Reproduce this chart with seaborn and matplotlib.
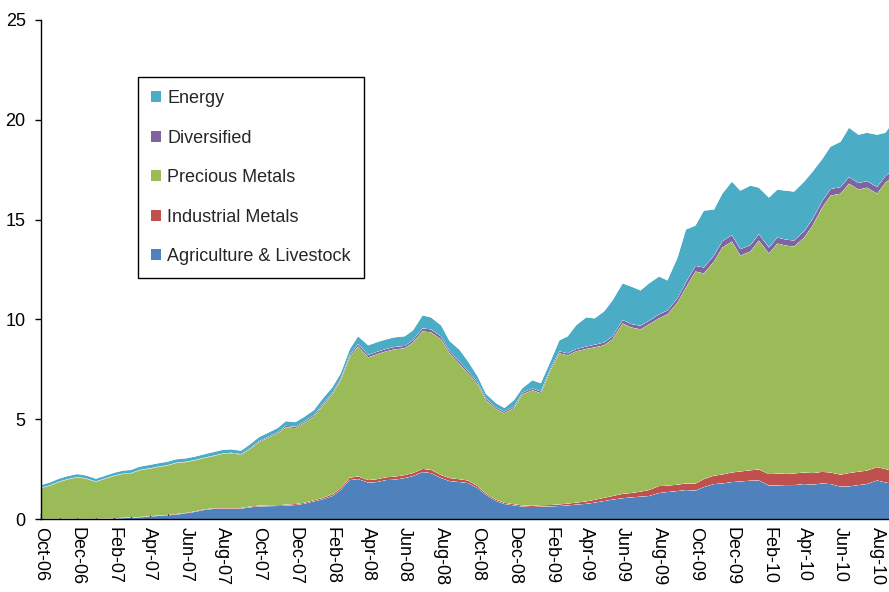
import numpy as np
import pandas as pd
import matplotlib
matplotlib.use("Agg")
import matplotlib.pyplot as plt
import matplotlib.dates as mdates
from matplotlib.patches import Patch
import seaborn as sns
import seaborn.objects as so

# ---------------- data ----------------
dates = list(pd.date_range("2006-10-01", "2010-08-15", freq="SMS")) + [pd.Timestamp("2010-08-21")]

agriculture = [0.00, 0.00, 0.00, 0.00, 0.00, 0.00, 0.00, 0.01, 0.02, 0.04,
               0.06, 0.08, 0.12, 0.15, 0.18, 0.22, 0.28, 0.35, 0.45, 0.50,
               0.52, 0.50, 0.52, 0.58, 0.63, 0.64, 0.65, 0.67, 0.70, 0.76,
               0.88, 0.98, 1.15, 1.45, 1.95, 2.00, 1.82, 1.85, 1.95, 1.97,
               2.05, 2.15, 2.35, 2.30, 2.05, 1.90, 1.85, 1.80, 1.55, 1.20,
               0.90, 0.75, 0.68, 0.62, 0.60, 0.62, 0.63, 0.65, 0.68, 0.72,
               0.76, 0.82, 0.90, 0.97, 1.04, 1.08, 1.12, 1.15, 1.30, 1.35,
               1.40, 1.45, 1.42, 1.60, 1.75, 1.78, 1.85, 1.88, 1.92, 1.93,
               1.68, 1.68, 1.70, 1.70, 1.75, 1.72, 1.78, 1.75, 1.62, 1.63,
               1.70, 1.75, 1.93, 1.83, 1.80]

industrial = [0.01, 0.01, 0.01, 0.01, 0.01, 0.01, 0.01, 0.01, 0.02, 0.02,
              0.02, 0.02, 0.02, 0.02, 0.03, 0.03, 0.03, 0.03, 0.03, 0.03,
              0.03, 0.03, 0.03, 0.04, 0.04, 0.04, 0.04, 0.05, 0.05, 0.05,
              0.06, 0.07, 0.08, 0.10, 0.12, 0.13, 0.13, 0.14, 0.14, 0.15,
              0.15, 0.15, 0.16, 0.16, 0.15, 0.15, 0.14, 0.13, 0.10, 0.08,
              0.07, 0.06, 0.06, 0.06, 0.06, 0.07, 0.07, 0.08, 0.09, 0.10,
              0.12, 0.14, 0.16, 0.18, 0.22, 0.22, 0.25, 0.30, 0.35, 0.32,
              0.32, 0.33, 0.35, 0.40, 0.42, 0.45, 0.48, 0.50, 0.52, 0.55,
              0.57, 0.59, 0.59, 0.58, 0.58, 0.58, 0.58, 0.58, 0.60, 0.67,
              0.67, 0.67, 0.67, 0.67, 0.65]

precious = [1.54, 1.65, 1.85, 1.97, 2.07, 2.01, 1.85, 1.98, 2.12, 2.19,
            2.20, 2.34, 2.38, 2.43, 2.47, 2.55, 2.54, 2.55, 2.57, 2.61,
            2.71, 2.76, 2.67, 2.86, 3.18, 3.37, 3.59, 3.88, 3.80, 3.99,
            4.18, 4.60, 5.02, 5.40, 6.05, 6.52, 6.15, 6.26, 6.31, 6.38,
            6.35, 6.55, 6.89, 6.89, 6.80, 6.25, 5.76, 5.37, 5.10, 4.67,
            4.53, 4.49, 4.81, 5.57, 5.79, 5.61, 6.80, 7.57, 7.43, 7.58,
            7.64, 7.64, 7.64, 7.85, 8.54, 8.30, 8.13, 8.30, 8.40, 8.58,
            9.13, 9.82, 10.63, 10.30, 10.73, 11.37, 11.57, 10.82, 10.96, 11.47,
            11.05, 11.53, 11.41, 11.37, 11.77, 12.40, 13.24, 13.87, 14.08, 14.50,
            14.13, 14.18, 13.70, 14.35, 14.55]

diversified = [0.02, 0.02, 0.02, 0.02, 0.02, 0.02, 0.02, 0.02, 0.02, 0.02,
               0.03, 0.02, 0.02, 0.02, 0.02, 0.02, 0.02, 0.02, 0.02, 0.02,
               0.02, 0.03, 0.03, 0.04, 0.05, 0.05, 0.06, 0.07, 0.07, 0.07,
               0.08, 0.08, 0.08, 0.08, 0.10, 0.12, 0.12, 0.12, 0.12, 0.12,
               0.12, 0.12, 0.15, 0.15, 0.14, 0.12, 0.12, 0.12, 0.10, 0.10,
               0.08, 0.08, 0.08, 0.08, 0.09, 0.09, 0.10, 0.10, 0.10, 0.11,
               0.12, 0.13, 0.14, 0.15, 0.17, 0.17, 0.18, 0.18, 0.20, 0.20,
               0.22, 0.25, 0.28, 0.30, 0.30, 0.32, 0.32, 0.32, 0.32, 0.32,
               0.30, 0.30, 0.30, 0.30, 0.32, 0.32, 0.32, 0.33, 0.33, 0.33,
               0.33, 0.33, 0.33, 0.33, 0.33]

energy = [0.13, 0.14, 0.15, 0.15, 0.15, 0.14, 0.14, 0.13, 0.14, 0.15,
          0.15, 0.16, 0.17, 0.17, 0.17, 0.17, 0.17, 0.17, 0.17, 0.18,
          0.18, 0.17, 0.17, 0.20, 0.20, 0.20, 0.21, 0.23, 0.23, 0.23,
          0.25, 0.27, 0.27, 0.27, 0.28, 0.38, 0.48, 0.48, 0.48, 0.48,
          0.48, 0.48, 0.65, 0.60, 0.56, 0.50, 0.60, 0.48, 0.30, 0.22,
          0.22, 0.18, 0.32, 0.22, 0.41, 0.41, 0.35, 0.55, 0.85, 1.19,
          1.46, 1.32, 1.56, 1.80, 1.83, 1.88, 1.77, 1.87, 1.90, 1.50,
          2.03, 2.65, 2.02, 2.85, 2.30, 2.38, 2.68, 2.93, 2.98, 2.33,
          2.50, 2.40, 2.45, 2.45, 2.48, 2.38, 2.10, 2.12, 2.27, 2.47,
          2.42, 2.42, 2.62, 2.17, 2.27]

series_names = ["Agriculture & Livestock", "Industrial Metals", "Precious Metals",
                "Diversified", "Energy"]
series_values = [agriculture, industrial, precious, diversified, energy]
colors = ["#4F81BD", "#C0504D", "#9BBB59", "#8064A2", "#4BACC6"]
y_ticks = [0, 5, 10, 15, 20, 25]

# ---------------- figure ----------------
FONT = ["Liberation Sans", "DejaVu Sans"]
FS = 13
sns.set_theme(style="white")
plt.rcParams["font.family"] = FONT

df = pd.concat(
    [pd.DataFrame({"date": dates, "value": v, "series": n})
     for n, v in zip(series_names, series_values)],
    ignore_index=True,
)

fig = plt.figure(figsize=(8.89, 5.92), dpi=100)
ax = fig.add_axes([41 / 889, 73 / 592, 848 / 889, 499 / 592])

theme = {**sns.axes_style("white"), "font.family": FONT, "axes.grid": False}
(
    so.Plot(df, x="date", y="value", color="series")
    .add(so.Area(alpha=1, edgewidth=0), so.Stack())
    .scale(color=so.Nominal(dict(zip(series_names, colors)), order=series_names))
    .theme(theme)
    .on(ax)
    .plot()
)

fig.legends.clear()

ax.set_facecolor("white")
ax.grid(False)
ax.set_xlabel("")
ax.set_ylabel("")

ax.set_ylim(0, 25)
ax.set_yticks(y_ticks)
ax.set_xlim(mdates.date2num(pd.Timestamp("2006-10-01")),
            mdates.date2num(pd.Timestamp("2010-08-21")))

ax.xaxis.set_major_locator(mdates.MonthLocator(bymonth=[2, 4, 6, 8, 10, 12]))
ax.xaxis.set_major_formatter(mdates.DateFormatter("%b-%y"))
ax.xaxis.set_minor_locator(mdates.MonthLocator(bymonth=[1, 3, 5, 7, 9, 11]))

for s in ["top", "right"]:
    ax.spines[s].set_visible(False)
for s in ["left", "bottom"]:
    ax.spines[s].set_visible(True)
    ax.spines[s].set_color("black")
    ax.spines[s].set_linewidth(1.0)

ax.tick_params(axis="x", which="both", direction="in", length=4, width=1,
               color="black", bottom=True, pad=6)
ax.tick_params(axis="y", which="major", direction="out", length=4, width=1,
               color="black", left=True, pad=7)
for lab in ax.get_xticklabels():
    lab.set_rotation(270)
    lab.set_fontsize(FS)
    lab.set_fontfamily(FONT)
    lab.set_color("black")
    lab.set_ha("center")
    lab.set_va("top")
for lab in ax.get_yticklabels():
    lab.set_fontsize(FS)
    lab.set_fontfamily(FONT)
    lab.set_color("black")

handles = [Patch(facecolor=c, edgecolor="none", label=n)
           for n, c in zip(series_names, colors)][::-1]
leg = ax.legend(handles=handles, loc="upper left",
                bbox_to_anchor=((138 - 41) / 848, (519 - 77) / 499),
                borderaxespad=0, frameon=True, fancybox=False, shadow=False,
                prop={"family": FONT, "size": FS},
                handlelength=0.55, handleheight=0.55, handletextpad=0.35,
                labelspacing=1.25, borderpad=0.72)
leg.get_frame().set_edgecolor("black")
leg.get_frame().set_linewidth(1.0)
leg.get_frame().set_facecolor("white")
leg.get_frame().set_alpha(1)

fig.savefig("out.png", dpi=100)
